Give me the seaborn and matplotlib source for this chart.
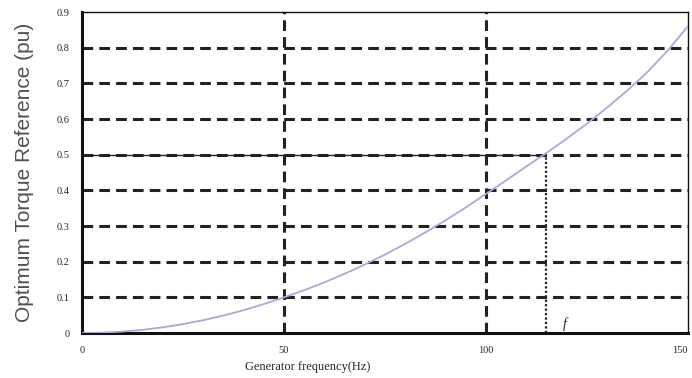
import numpy as np
import pandas as pd
import matplotlib
matplotlib.use('Agg')
from matplotlib import pyplot as plt
import seaborn as sns

# curva de referencia de par óptimo
freq_hz = [0, 5, 10, 15, 20, 25, 30, 35, 40, 45, 50, 55, 60, 65, 70, 75, 80, 85, 90,
           95, 100, 105, 110, 115, 120, 125, 130, 135, 140, 145, 150]
torque_pu = [0, 0.001, 0.004, 0.009, 0.016, 0.025, 0.036, 0.049, 0.064, 0.081, 0.1,
             0.12, 0.142, 0.166, 0.192, 0.22, 0.25, 0.282, 0.316, 0.352, 0.39, 0.428,
             0.467, 0.505, 0.545, 0.587, 0.632, 0.68, 0.732, 0.792, 0.86]

x_ticks = [0, 50, 100, 150]
y_ticks = [0, 0.1, 0.2, 0.3, 0.4, 0.5, 0.6, 0.7, 0.8, 0.9]
y_tick_labels = ['0', '0.1', '0.2', '0.3', '0.4', '0.5', '0.6', '0.7', '0.8', '0.9']
f_point = 115
t_point = 0.5

df = pd.DataFrame({'freq': freq_hz, 'torque': torque_pu})

sns.set_style('white')
fig = plt.figure(figsize=(6.92, 3.78), dpi=100)
ax = fig.add_axes([0.1185, 0.119, 0.8755, 0.849])

# rejilla punteada gruesa
for yv in y_ticks[1:-1]:
    ax.axhline(yv, color='#222222', lw=2.2, ls=(0, (3.5, 2)), zorder=1)
for xv in x_ticks[1:-1]:
    ax.axvline(xv, color='#222222', lw=2.2, ls=(0, (3.5, 2)), zorder=1)

ax.hlines(t_point, 0, f_point, color='#222222', lw=1.0, zorder=2)
ax.vlines(f_point, 0, t_point, color='#222222', lw=1.6, ls=(0, (1, 1)), zorder=2)

sns.lineplot(data=df, x='freq', y='torque', color='#a9a9da', lw=1.3, ax=ax, zorder=3)

ax.text(f_point + 4, 0.015, 'f', fontsize=10, style='italic', family='Liberation Serif')

ax.set_xlim(0, 150)
ax.set_ylim(0, 0.9)
ax.set_xticks(x_ticks)
ax.set_xticklabels([str(v) for v in x_ticks], family='Liberation Serif', fontsize=7.5)
ax.set_yticks(y_ticks)
ax.set_yticklabels(y_tick_labels, family='Liberation Serif', fontsize=7.5)
ax.tick_params(length=0, pad=9)
ax.get_xticklabels()[-1].set_horizontalalignment('right')
ax.set_xlabel('')
ax.set_ylabel('Optimum Torque Reference (pu)', family='Liberation Sans', fontsize=15,
              color='#505050', labelpad=16)

for side in ['left', 'bottom']:
    ax.spines[side].set_linewidth(2.2)
    ax.spines[side].set_color('#111111')
for side in ['top', 'right']:
    ax.spines[side].set_linewidth(1.0)
    ax.spines[side].set_color('#111111')

ax.text(0.373, -0.105, 'Generator frequency(Hz)', transform=ax.transAxes, ha='center', va='center',
        family='Liberation Serif', fontsize=9)

plt.savefig('out.png', dpi=100)
